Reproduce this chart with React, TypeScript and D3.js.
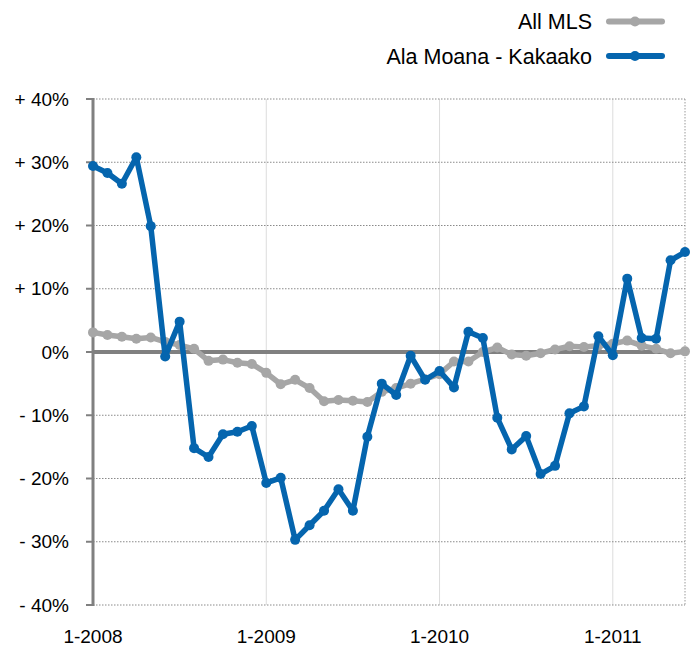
import React from "react";
import * as d3 from "d3";

const months = d3.range(42); // Jan 2008 .. Jun 2011, month index
const allMLS = [3.1, 2.7, 2.4, 2.1, 2.3, 1.6, 1.1, 0.5, -1.4, -1.2, -1.7, -1.9, -3.3, -5.1, -4.4, -5.7, -7.8, -7.6, -7.7, -7.9, -6.3, -5.7, -5.0, -4.3, -3.5, -1.5, -1.5, 0.0, 0.7, -0.4, -0.6, -0.2, 0.4, 0.9, 0.8, 1.0, 1.3, 1.8, 1.0, 0.5, -0.2, 0.1];
const alaMoana = [29.4, 28.3, 26.6, 30.8, 19.9, -0.7, 4.8, -15.2, -16.6, -13.0, -12.6, -11.7, -20.7, -19.9, -29.7, -27.4, -25.1, -21.7, -25.1, -13.4, -5.0, -6.8, -0.6, -4.4, -3.0, -5.6, 3.2, 2.2, -10.4, -15.4, -13.3, -19.3, -18.0, -9.7, -8.6, 2.5, -0.5, 11.6, 2.2, 2.1, 14.5, 15.8];
const yTicks = [40, 30, 20, 10, 0, -10, -20, -30, -40];
const xTickIdx = [0, 12, 24, 36];
const xTickLabels = ["1-2008", "1-2009", "1-2010", "1-2011"];
const seriesNames = ["All MLS", "Ala Moana - Kakaako"];
const seriesColors = ["#a6a6a6", "#0565ae"];

const W = 696, H = 647;
const L = 93, R = 685, T = 99, B = 605;
const FONT = "'Liberation Sans', Arial, Helvetica, sans-serif";

export default function App() {
  const x = d3.scaleLinear().domain([0, 41]).range([L, R]);
  const y = d3.scaleLinear().domain([-40, 40]).range([B, T]);
  const line = d3.line<number>().x((_, i) => x(months[i])).y((d) => y(d));
  const fmt = (v: number) => (v > 0 ? `+ ${v}%` : v < 0 ? `- ${Math.abs(v)}%` : "0%");
  const series = [allMLS, alaMoana];

  return (
    <svg width={W} height={H} style={{ position: "absolute", left: 0, top: 0 }} fontFamily={FONT}>
      <rect width={W} height={H} fill="#fff" />
      {/* vertical gridlines */}
      {xTickIdx.slice(1).map((m) => (
        <line key={m} x1={x(m)} x2={x(m)} y1={T} y2={B} stroke="#dcdcdc" strokeWidth={1} />
      ))}
      <line x1={R} x2={R} y1={T} y2={B} stroke="#9a9a9a" strokeWidth={1} strokeDasharray="1.5,1.5" />
      {/* horizontal gridlines */}
      {yTicks.filter((t) => t !== 0).map((t) => (
        <line key={t} x1={L} x2={R} y1={y(t)} y2={y(t)} stroke="#8a8a8a" strokeWidth={1} strokeDasharray="1.5,1.5" />
      ))}
      {/* y tick marks */}
      {yTicks.map((t) => (
        <line key={"tk" + t} x1={L - 7} x2={L} y1={y(t)} y2={y(t)} stroke="#808080" strokeWidth={2} />
      ))}
      {/* left axis */}
      <line x1={L} x2={L} y1={T - 1} y2={B + 1} stroke="#808080" strokeWidth={3} />
      {/* zero line */}
      <line x1={L} x2={R} y1={y(0)} y2={y(0)} stroke="#808080" strokeWidth={4} />
      {/* y labels */}
      {yTicks.map((t) => (
        <text key={"yl" + t} x={69} y={y(t)} dy="0.35em" textAnchor="end" fontSize={19} fill="#000">
          {fmt(t)}
        </text>
      ))}
      {/* x labels */}
      {xTickIdx.map((m, i) => (
        <text key={"xl" + m} x={x(m)} y={643} textAnchor="middle" fontSize={19} fill="#000">
          {xTickLabels[i]}
        </text>
      ))}
      {/* series */}
      {series.map((s, si) => (
        <g key={si}>
          <path d={line(s) || ""} fill="none" stroke={seriesColors[si]} strokeWidth={5.5} strokeLinejoin="round" strokeLinecap="round" />
          {s.map((v, i) => (
            <circle key={i} cx={x(months[i])} cy={y(v)} r={5} fill={seriesColors[si]} />
          ))}
        </g>
      ))}
      {/* legend */}
      {seriesNames.map((n, i) => {
        const ly = i === 0 ? 21.5 : 56;
        return (
          <g key={n}>
            <text x={592} y={ly + 7.5} textAnchor="end" fontSize={21.5} fill="#000">{n}</text>
            <line x1={609} x2={662} y1={ly} y2={ly} stroke={seriesColors[i]} strokeWidth={6} strokeLinecap="round" />
            <circle cx={635} cy={ly} r={5} fill={seriesColors[i]} />
          </g>
        );
      })}
    </svg>
  );
}
